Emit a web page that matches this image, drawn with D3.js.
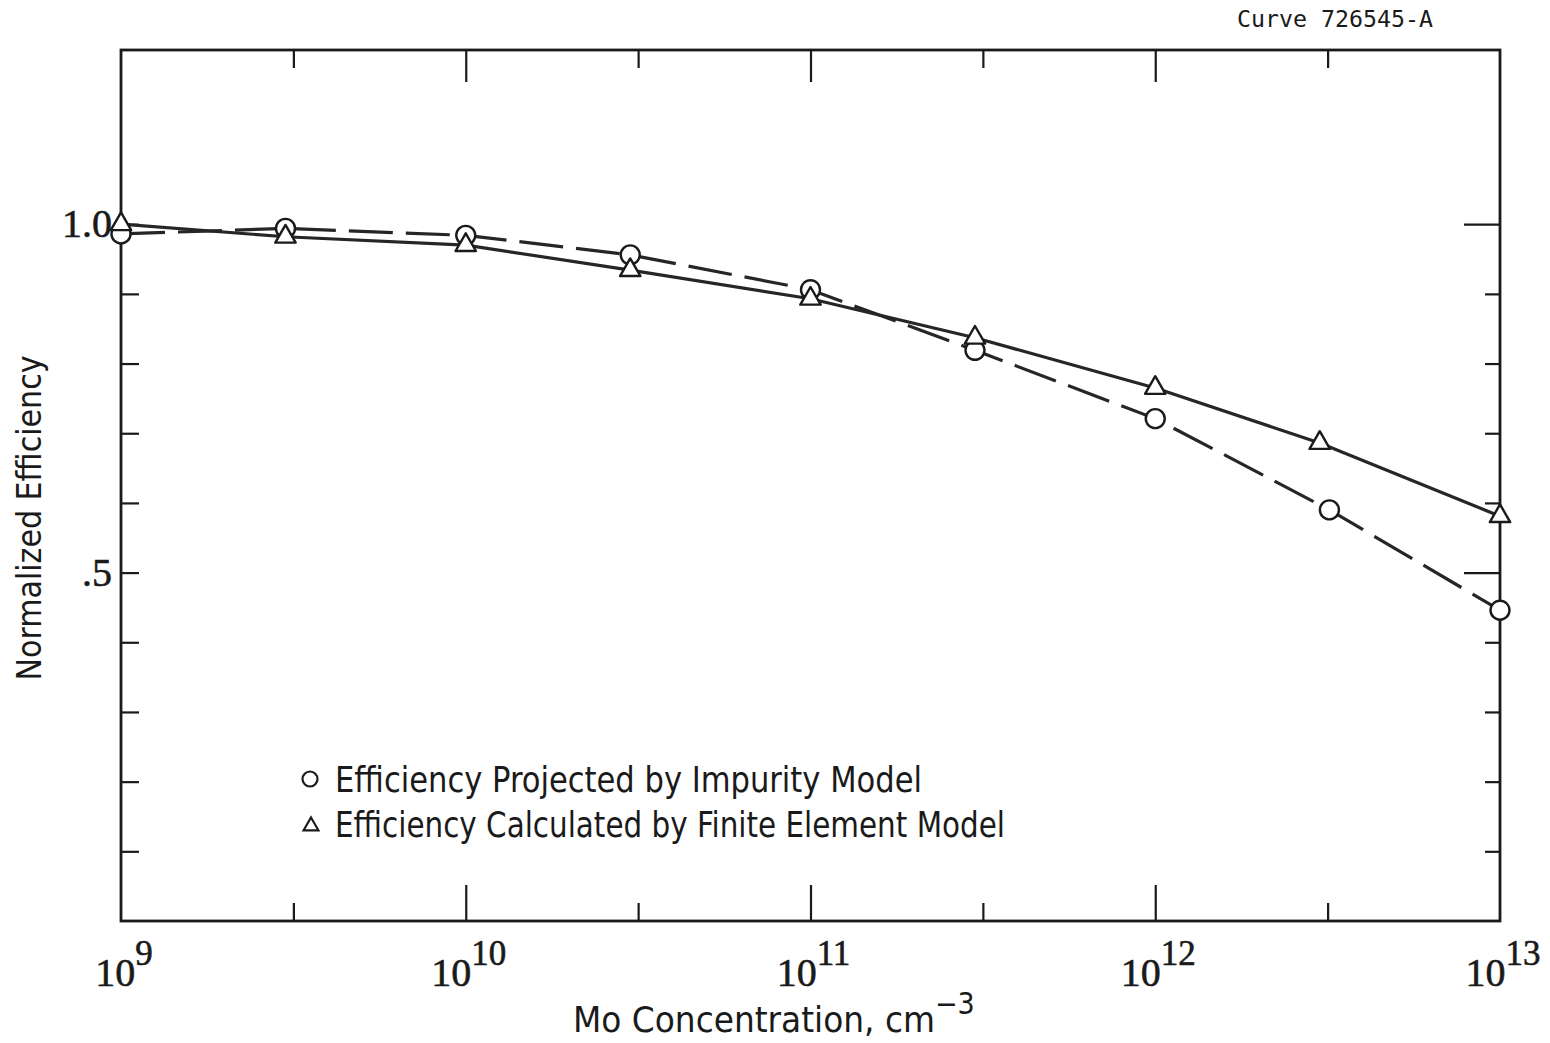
<!DOCTYPE html>
<html>
<head>
<meta charset="utf-8">
<title>Normalized Efficiency vs Mo Concentration</title>
<script src="https://cdn.jsdelivr.net/npm/d3@7"></script>
<style>
  html, body { margin: 0; padding: 0; background: #fff; }
  svg { display: block; }
  .cond { font-family: "Liberation Sans Narrow", "DejaVu Sans Condensed", "Roboto Condensed", Roboto, "Noto Sans", sans-serif; }
  .serif { font-family: "Liberation Serif", "DejaVu Serif", serif; }
  .mono { font-family: "DejaVu Sans Mono", "Liberation Mono", monospace; }
</style>
</head>
<body>
<svg id="chart" width="1550" height="1043"></svg>
<script>
// Mo concentration (cm^-3) and normalized efficiency for each model
const impurityConc = [1e9, 3e9, 1e10, 3e10, 1e11, 3e11, 1e12, 3.2e12, 1e13];
const impurityEff  = [0.986, 0.994, 0.984, 0.956, 0.906, 0.819, 0.721, 0.590, 0.446];
const finiteConc   = [1e9, 3e9, 1e10, 3e10, 1e11, 3e11, 1e12, 3e12, 1e13];
const finiteEff    = [1.000, 0.982, 0.970, 0.934, 0.893, 0.837, 0.765, 0.686, 0.581];

// Axis ticks and labels
const decadeTicks = [1e10, 1e11, 1e12];
const halfDecadeTicks = [1e9, 1e10, 1e11, 1e12].map(d => d * Math.sqrt(10));
const xLabelValues = [1e9, 1e10, 1e11, 1e12, 1e13];
const xLabelExponents = ["9", "10", "11", "12", "13"];
const yTickValues = [0.1, 0.2, 0.3, 0.4, 0.5, 0.6, 0.7, 0.8, 0.9, 1.0];
const yMajorTicks = [0.5, 1.0];
const yLabelValues = [1.0, 0.5];
const yLabelText = ["1.0", ".5"];

const legendLabels = [
  "Efficiency Projected by Impurity Model",
  "Efficiency Calculated by Finite Element Model"
];

const svg = d3.select("#chart");
const ink = "#1a1a1a";

const x = d3.scaleLog().domain([1e9, 1e13]).range([121, 1500]);
const y = d3.scaleLinear().domain([0, 1.25]).range([921, 50]);

// ---- ticks (all pointing into the plot) ----
function styleAxis(g) {
  g.select(".domain").remove();
  g.selectAll(".tick line").attr("stroke", ink).attr("stroke-width", 2.2);
  g.selectAll(".tick text").remove();
}
const [y0, y1] = y.range();
const [x0, x1] = x.range();

svg.append("g").attr("transform", `translate(0,${y0})`)
  .call(d3.axisBottom(x).tickValues(decadeTicks).tickSize(-36)).call(styleAxis);
svg.append("g").attr("transform", `translate(0,${y0})`)
  .call(d3.axisBottom(x).tickValues(halfDecadeTicks).tickSize(-18)).call(styleAxis);
svg.append("g").attr("transform", `translate(0,${y1})`)
  .call(d3.axisTop(x).tickValues(decadeTicks).tickSize(-32)).call(styleAxis);
svg.append("g").attr("transform", `translate(0,${y1})`)
  .call(d3.axisTop(x).tickValues(halfDecadeTicks).tickSize(-18)).call(styleAxis);
svg.append("g").attr("transform", `translate(${x0},0)`)
  .call(d3.axisLeft(y).tickValues(yTickValues).tickSize(-18)).call(styleAxis);
svg.append("g").attr("transform", `translate(${x1},0)`)
  .call(d3.axisRight(y).tickValues(yTickValues.filter(v => !yMajorTicks.includes(v))).tickSize(-15)).call(styleAxis);
svg.append("g").attr("transform", `translate(${x1},0)`)
  .call(d3.axisRight(y).tickValues(yMajorTicks).tickSize(-36)).call(styleAxis);

// ---- frame ----
svg.append("rect")
  .attr("x", x0).attr("y", y1)
  .attr("width", x1 - x0).attr("height", y0 - y1)
  .attr("fill", "none").attr("stroke", ink).attr("stroke-width", 2.8);

// ---- x tick labels: 10 with superscript exponent ----
const xl = svg.append("g").attr("class", "serif").attr("fill", ink)
  .attr("stroke", ink).attr("stroke-width", 0.6);
xLabelValues.forEach((v, i) => {
  const t = xl.append("text")
    .attr("x", x(v) + 3).attr("y", 986)
    .attr("text-anchor", "middle");
  t.append("tspan").attr("font-size", 40).text("10");
  t.append("tspan").attr("font-size", 35).attr("dy", -21).text(xLabelExponents[i]);
});

// ---- y tick labels ----
const yl = svg.append("g").attr("class", "serif").attr("fill", ink)
  .attr("stroke", ink).attr("stroke-width", 0.6);
yLabelValues.forEach((v, i) => {
  yl.append("text")
    .attr("x", 112).attr("y", y(v) + 13)
    .attr("text-anchor", "end")
    .attr("font-size", 40)
    .text(yLabelText[i]);
});

// ---- axis titles ----
const xt = svg.append("text").attr("class", "cond").attr("fill", ink)
  .attr("x", 573).attr("y", 1032);
xt.append("tspan").attr("font-size", 35)
  .attr("textLength", 362).attr("lengthAdjust", "spacingAndGlyphs")
  .text("Mo Concentration, cm");
xt.append("tspan").attr("font-size", 30).attr("dy", -18).text("\u22123");

svg.append("text").attr("class", "cond").attr("fill", ink)
  .attr("transform", "translate(41,518) rotate(-90)")
  .attr("text-anchor", "middle")
  .attr("font-size", 34)
  .attr("textLength", 325).attr("lengthAdjust", "spacingAndGlyphs")
  .text("Normalized Efficiency");

svg.append("text").attr("class", "mono").attr("fill", ink)
  .attr("x", 1237).attr("y", 27)
  .attr("font-size", 23)
  .attr("textLength", 196).attr("lengthAdjust", "spacingAndGlyphs")
  .text("Curve 726545-A");

// ---- curves ----
const finitePts = finiteConc.map((c, i) => [c, finiteEff[i]]);
const impurityPts = impurityConc.map((c, i) => [c, impurityEff[i]]);
const line = d3.line().x(d => x(d[0])).y(d => y(d[1]));

svg.append("path").datum(finitePts)
  .attr("d", line)
  .attr("fill", "none").attr("stroke", "#262626").attr("stroke-width", 3.2)
  .attr("stroke-linejoin", "round");

svg.append("path").datum(impurityPts)
  .attr("d", line)
  .attr("fill", "none").attr("stroke", "#262626").attr("stroke-width", 3.2)
  .attr("stroke-dasharray", "44 13");

// ---- markers ----
svg.append("g").selectAll("circle").data(impurityPts).join("circle")
  .attr("cx", d => x(d[0])).attr("cy", d => y(d[1])).attr("r", 9.5)
  .attr("fill", "#fff").attr("stroke", ink).attr("stroke-width", 2.4);

const tri = d3.symbol().type(d3.symbolTriangle).size(180);
svg.append("g").selectAll("path").data(finitePts).join("path")
  .attr("transform", d => `translate(${x(d[0])},${y(d[1])})`)
  .attr("d", tri)
  .attr("fill", "#fff").attr("stroke", ink).attr("stroke-width", 2.4)
  .attr("stroke-linejoin", "round");

// ---- legend ----
const lg = svg.append("g");
lg.append("circle").attr("cx", 310).attr("cy", 779).attr("r", 7.5)
  .attr("fill", "#fff").attr("stroke", ink).attr("stroke-width", 2.2);
lg.append("path").attr("transform", "translate(311,826)")
  .attr("d", d3.symbol().type(d3.symbolTriangle).size(95))
  .attr("fill", "#fff").attr("stroke", ink).attr("stroke-width", 2.2);
const legendWidths = [587, 670];
legendLabels.forEach((t, i) => {
  lg.append("text").attr("class", "cond").attr("fill", ink)
    .attr("x", 335).attr("y", 792 + i * 45)
    .attr("font-size", 36)
    .attr("textLength", legendWidths[i]).attr("lengthAdjust", "spacingAndGlyphs")
    .text(t);
});
</script>
</body>
</html>
